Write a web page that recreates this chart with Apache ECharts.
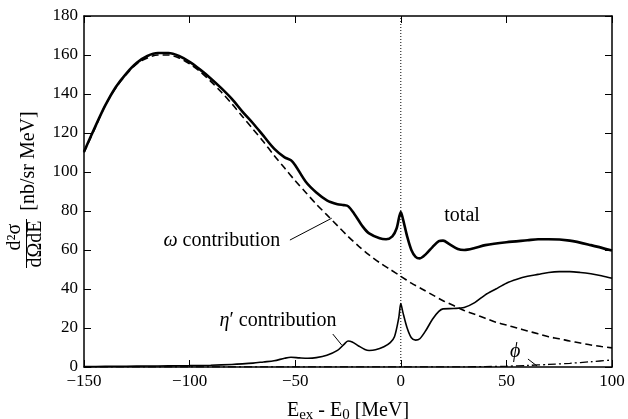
<!DOCTYPE html>
<html>
<head>
<meta charset="utf-8">
<script src="https://cdn.jsdelivr.net/npm/echarts@6/dist/echarts.min.js"></script>
<style>html,body{margin:0;padding:0;background:#fff}#c{width:628px;height:419px}</style>
</head>
<body>
<div id="c"></div>
<script>
// ---- data ----
const xTicks = [-150, -100, -50, 0, 50, 100];
const yTicks = [0, 20, 40, 60, 80, 100, 120, 140, 160, 180];

const totalX = [-150,-145,-140,-135,-130,-125,-120,-115,-110,-105,-100,-95,-90,-85,-80,-75,-70,-65,-60,-55,-52,-50,-45,-40,-35,-30,-27,-25,-22,-18,-15,-10,-7,-4,-2,0,1,3,5,7,9,12,15,18,20,23,27,30,35,40,50,60,65,70,80,90,100];
const totalY = [110.4,122.5,134,143.5,150.5,156,159.5,161,161,159.5,156.5,152.5,148,143,137.5,131,125,118.5,112,107.5,106,103.5,95,89.5,85.5,83.5,83,82.5,78.5,72,68.5,66,65.5,67,71,79.5,76,67,60,56.5,55.7,58,61.5,64.5,64.8,63,60.5,60,61,62.5,64,65,65.5,65.5,64.8,62.5,59.7];

const omegaX = [-150,-145,-140,-135,-130,-125,-120,-115,-110,-105,-100,-95,-90,-85,-80,-75,-70,-65,-60,-55,-50,-45,-40,-35,-30,-25,-20,-15,-10,-5,0,5,10,15,20,25,30,35,40,45,50,55,60,65,70,75,80,85,90,95,100];
const omegaY = [110,122,134,143,150,155.5,158.5,160,160,158.5,155.5,151.5,146.5,141,135,128.5,122,115.5,108.5,102,95.5,89.5,83.5,78,72.5,67,62,57.5,53.5,50,46.5,43,40,37,34,31.5,29,27,25,23,21.5,20,18.5,17,15.5,14.5,13.3,12.3,11.3,10.5,9.8];

const etaX = [-150,-140,-130,-120,-110,-100,-90,-80,-75,-70,-65,-60,-55,-52,-48,-44,-40,-35,-30,-27,-25,-23,-20,-17,-15,-12,-8,-5,-3,-1,0,1,3,5,7,9,12,15,18,20,25,30,35,40,45,50,55,60,65,70,75,80,85,90,95,100];
const etaY = [0.2,0.3,0.4,0.5,0.6,0.7,0.9,1.3,1.6,2.0,2.6,3.2,4.5,5.0,4.7,4.5,4.8,6,8.5,11.5,13.3,12.8,10.8,9,8.5,8.8,10.4,12.5,15.5,25,32.5,28,20,15,13.8,14.5,19,24.5,28.5,29.8,30,30.5,33,37,40,43,45,46.5,47.5,48.5,48.9,48.9,48.5,47.8,46.8,45.5];

const phiX = [-150,-100,-50,0,30,40,50,60,70,80,90,100];
const phiY = [0.1,0.1,0.1,0.1,0.1,0.2,0.4,0.8,1.3,1.9,2.7,3.6];

// annotation anchors in data coordinates
const labelTotal = [29, 77.4];
const labelOmega = [-84.7, 64.6];
const labelEta = [-58.1, 23.6];
const labelPhi = [54.1, 7.7];
const pointerOmega = [[-52.5, 65.1], [-32.7, 76.3]];
const pointerEta = [[-32.2, 16.9], [-28, 11.3]];
const pointerPhi = [[60.2, 4.1], [64.5, 0.5]];
const zeroLine = [[0, 0], [0, 180]];

const zip = (xs, ys) => xs.map((x, i) => [x, ys[i]]);
const FONT = '"Liberation Serif", "DejaVu Serif", serif';

const chart = echarts.init(document.getElementById('c'));
const baseAxis = {
  axisLine: { show: true, onZero: false, lineStyle: { color: '#000', width: 1.5 } },
  axisTick: { show: true, inside: true, length: 7, lineStyle: { color: '#000', width: 1 } },
  splitLine: { show: false }
};
const option = {
  animation: false,
  backgroundColor: '#fff',
  grid: { left: 84, right: 16, top: 16, bottom: 52, containLabel: false, outerBoundsMode: 'none' },
  xAxis: [
    Object.assign({}, baseAxis, {
      type: 'value', min: -150, max: 100, interval: 50, position: 'bottom',
      axisLabel: { show: true, color: '#000', fontFamily: FONT, fontSize: 17, margin: 6,
        formatter: v => (v < 0 ? '\u2212' + Math.abs(v) : String(v)) },
      name: 'E{sub|ex} - E{sub|0} [MeV]', nameLocation: 'middle', nameGap: 32,
      nameTextStyle: { color: '#000', fontFamily: FONT, fontSize: 20,
        rich: { sub: { fontFamily: FONT, fontSize: 15, color: '#000', verticalAlign: 'bottom', padding: [9, 0, 0, 0] } } }
    }),
    Object.assign({}, baseAxis, {
      type: 'value', min: -150, max: 100, interval: 50, position: 'top',
      axisLabel: { show: false }
    })
  ],
  yAxis: [
    Object.assign({}, baseAxis, {
      type: 'value', min: 0, max: 180, interval: 20, position: 'left',
      axisLabel: { show: true, color: '#000', fontFamily: FONT, fontSize: 17, margin: 6 }
    }),
    Object.assign({}, baseAxis, {
      type: 'value', min: 0, max: 180, interval: 20, position: 'right',
      axisLabel: { show: false }
    })
  ],
  series: [
    { type: 'line', name: 'zero', data: zeroLine, symbol: 'none', z: 1,
      lineStyle: { color: '#000', width: 1, type: [1, 2] } },
    { type: 'line', name: 'omega', data: zip(omegaX, omegaY), symbol: 'none', smooth: 0.3, z: 2,
      lineStyle: { color: '#000', width: 1.6, type: [7, 4] } },
    { type: 'line', name: 'phi', data: zip(phiX, phiY), symbol: 'none', smooth: 0.3, z: 2,
      lineStyle: { color: '#000', width: 1.3, type: [8, 3, 2, 3] } },
    { type: 'line', name: 'eta', data: zip(etaX, etaY), symbol: 'none', smooth: 0.3, z: 3,
      lineStyle: { color: '#000', width: 1.6 } },
    { type: 'line', name: 'total', data: zip(totalX, totalY), symbol: 'none', smooth: 0.3, z: 4,
      lineStyle: { color: '#000', width: 2.6 } },
    { type: 'line', name: 'pOmega', data: pointerOmega, symbol: 'none', z: 3, lineStyle: { color: '#000', width: 1 } },
    { type: 'line', name: 'pEta', data: pointerEta, symbol: 'none', z: 3, lineStyle: { color: '#000', width: 1 } },
    { type: 'line', name: 'pPhi', data: pointerPhi, symbol: 'none', z: 3, lineStyle: { color: '#000', width: 1 } }
  ]
};
chart.setOption(option);

const px = p => chart.convertToPixel({ xAxisIndex: 0, yAxisIndex: 0 }, p);
const txt = (pos, text, extra) => ({
  type: 'text', x: pos[0], y: pos[1], z: 10,
  style: Object.assign({ text: text, fill: '#000', font: '20px ' + FONT, align: 'center', verticalAlign: 'middle' }, extra || {})
});
const ital = { i: { fontFamily: FONT, fontSize: 20, fontStyle: 'italic', fill: '#000' } };
const tT = px(labelTotal), tO = px(labelOmega), tE = px(labelEta), tP = px(labelPhi);
chart.setOption({
  graphic: [
    txt(tT, 'total'),
    txt(tO, '{i|ω} contribution', { rich: ital }),
    txt(tE, '{i|η}′ contribution', { rich: ital }),
    txt(tP, 'ϕ', { font: 'italic 20px ' + FONT }),
    // y-axis title (rotated)
    { type: 'text', x: 29, y: 161, rotation: Math.PI / 2, z: 10,
      style: { text: '[nb/sr MeV]', fill: '#000', font: '20px ' + FONT, align: 'center', verticalAlign: 'middle' } },
    { type: 'text', x: 15, y: 237, rotation: Math.PI / 2, z: 10,
      style: { text: 'd²σ', fill: '#000', font: '20px ' + FONT, align: 'center', verticalAlign: 'middle' } },
    { type: 'line', z: 10, shape: { x1: 26.5, y1: 219, x2: 26.5, y2: 268 }, style: { stroke: '#000', lineWidth: 1 } },
    { type: 'text', x: 36, y: 244, rotation: Math.PI / 2, z: 10,
      style: { text: 'dΩdE', fill: '#000', font: '20px ' + FONT, align: 'center', verticalAlign: 'middle' } }
  ]
});
</script>
</body>
</html>
